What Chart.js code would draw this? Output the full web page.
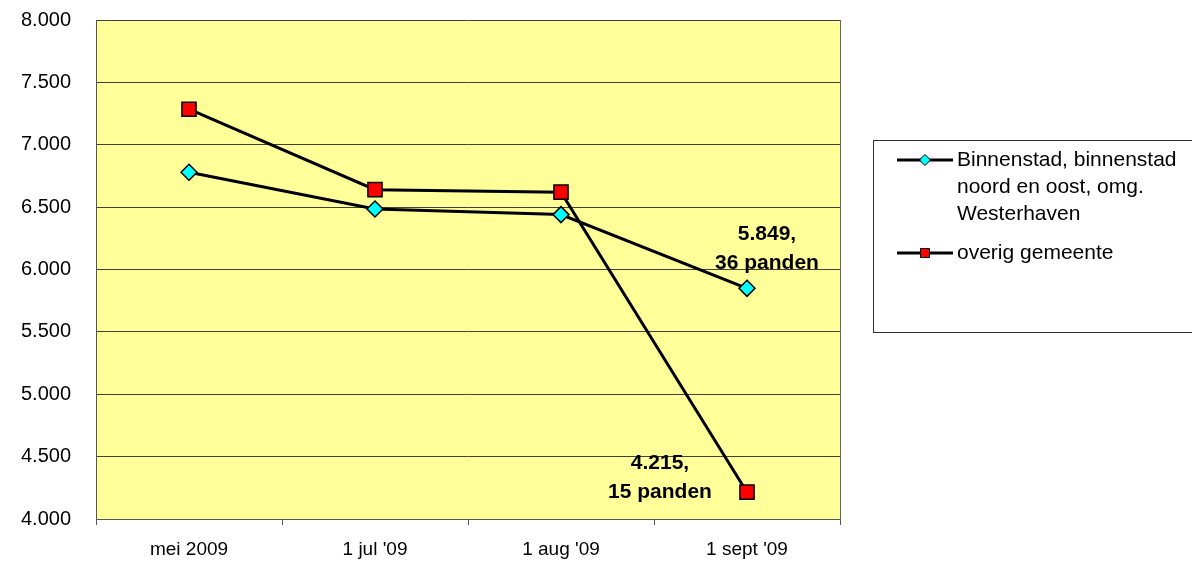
<!DOCTYPE html>
<html><head><meta charset="utf-8">
<script src="https://cdn.jsdelivr.net/npm/chart.js@4/dist/chart.umd.min.js"></script>
<style>html,body{margin:0;padding:0;background:#fff}#wrap{width:1192px;height:563px;position:relative}</style>
</head><body><div id="wrap"><canvas id="c" width="1192" height="563"></canvas></div>
<script>
const categories = ["mei 2009", "1 jul '09", "1 aug '09", "1 sept '09"];
const binnenstad = [6780, 6485, 6440, 5849];
const overig = [7285, 6640, 6620, 4215];
const seriesNames = [["Binnenstad, binnenstad", "noord en oost, omg.", "Westerhaven"], ["overig gemeente"]];
const endLabels = [["5.849,", "36 panden"], ["4.215,", "15 panden"]];
const yTicks = { min: 4000, max: 8000, step: 500 };

const FONT = '"Liberation Sans", Arial, sans-serif';

const plotBg = {
  id: 'plotBg',
  beforeDraw(chart) {
    const { ctx, chartArea: a } = chart;
    ctx.save();
    ctx.fillStyle = '#FFFF99';
    ctx.fillRect(a.left, a.top, a.right - a.left, a.bottom - a.top);
    ctx.restore();
  },
  afterDatasetsDraw(chart) {
    const { ctx, chartArea: a } = chart;
    ctx.save();
    ctx.strokeStyle = '#666';
    ctx.lineWidth = 1;
    ctx.beginPath();
    ctx.moveTo(a.right + 0.5, a.top);
    ctx.lineTo(a.right + 0.5, a.bottom);
    ctx.stroke();
    ctx.fillStyle = '#000';
    ctx.font = 'bold 21px ' + FONT;
    ctx.textAlign = 'center';
    ctx.textBaseline = 'middle';
    const m0 = chart.getDatasetMeta(0).data[3];
    const m1 = chart.getDatasetMeta(1).data[3];
    ctx.fillText(endLabels[0][0], m0.x + 20, m0.y - 54);
    ctx.fillText(endLabels[0][1], m0.x + 20, m0.y - 25);
    ctx.fillText(endLabels[1][0], m1.x - 87, m1.y - 29);
    ctx.fillText(endLabels[1][1], m1.x - 87, m1.y);
    ctx.strokeStyle = '#333';
    ctx.strokeRect(873.5, 140.5, 330, 192);
    const ds = chart.data.datasets;
    const rows = [160, 253];
    ctx.font = '21px ' + FONT;
    ctx.textAlign = 'left';
    for (let i = 0; i < 2; i++) {
      const y = rows[i];
      ctx.strokeStyle = '#000';
      ctx.lineWidth = 3;
      ctx.beginPath();
      ctx.moveTo(897, y);
      ctx.lineTo(953, y);
      ctx.stroke();
      ctx.lineWidth = 1;
      ctx.fillStyle = ds[i].pointBackgroundColor;
      ctx.strokeStyle = '#000';
      ctx.beginPath();
      if (i === 0) {
        ctx.moveTo(925, y - 5.5); ctx.lineTo(930.5, y); ctx.lineTo(925, y + 5.5); ctx.lineTo(919.5, y); ctx.closePath();
      } else {
        ctx.rect(920.5, y - 4.5, 9, 9);
      }
      ctx.fill(); ctx.stroke();
      ctx.fillStyle = '#000';
      seriesNames[i].forEach((t, k) => ctx.fillText(t, 957, y + k * 27));
    }
    ctx.restore();
  }
};

new Chart(document.getElementById('c'), {
  type: 'line',
  data: {
    labels: categories,
    datasets: [
      { label: seriesNames[0].join(' '), data: binnenstad, borderColor: '#000', borderWidth: 3,
        pointStyle: 'rectRot', pointRadius: 8, pointBackgroundColor: '#00FFFF', pointBorderColor: '#000', pointBorderWidth: 1.5, tension: 0 },
      { label: seriesNames[1].join(' '), data: overig, borderColor: '#000', borderWidth: 3,
        pointStyle: 'rect', pointRadius: 10, pointBackgroundColor: '#FF0000', pointBorderColor: '#000', pointBorderWidth: 1.5, tension: 0 }
    ]
  },
  options: {
    responsive: false,
    animation: false,
    layout: { autoPadding: false, padding: { top: 20, right: 352, left: 0, bottom: 0 } },
    plugins: { legend: { display: false }, tooltip: { enabled: false } },
    scales: {
      x: {
        offset: true,
        grid: { offset: true, drawOnChartArea: false, tickLength: 6, color: '#555' },
        border: { color: '#555' },
        ticks: { color: '#000', font: { family: FONT, size: 19 }, padding: 13, maxRotation: 0 },
        afterFit(s) { s.height = 44; s.paddingLeft = 0; s.paddingRight = 0; }
      },
      y: {
        min: yTicks.min, max: yTicks.max,
        grid: { color: '#404040', lineWidth: 1, drawTicks: false },
        border: { color: '#555' },
        ticks: { stepSize: yTicks.step, color: '#000', padding: 25, font: { family: FONT, size: 20 },
          callback: v => (v / 1000).toFixed(3) },
        afterFit(s) { s.width = 96; s.paddingTop = 0; s.paddingBottom = 0; }
      }
    }
  },
  plugins: [plotBg]
});
</script></body></html>
